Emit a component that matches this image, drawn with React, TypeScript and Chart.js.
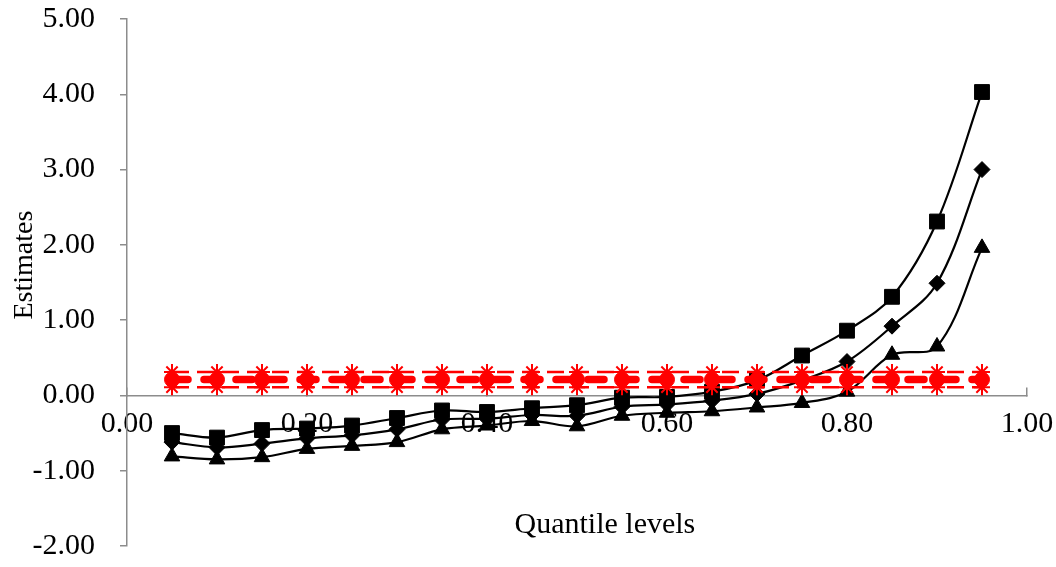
import React, { useEffect, useRef } from 'react';
import { Chart, registerables } from 'chart.js';

Chart.register(...registerables);

const quantiles = [0.05, 0.1, 0.15, 0.2, 0.25, 0.3, 0.35, 0.4, 0.45, 0.5, 0.55, 0.6, 0.65, 0.7, 0.75, 0.8, 0.85, 0.9, 0.95];

const squareSeries = [-0.5, -0.56, -0.46, -0.44, -0.4, -0.3, -0.2, -0.22, -0.17, -0.13, -0.03, -0.02, 0.05, 0.2, 0.53, 0.86, 1.31, 2.31, 4.03];
const diamondSeries = [-0.62, -0.69, -0.64, -0.57, -0.53, -0.45, -0.32, -0.31, -0.26, -0.27, -0.15, -0.12, -0.07, 0.02, 0.2, 0.45, 0.92, 1.49, 3.0];
const triangleSeries = [-0.81, -0.85, -0.82, -0.71, -0.67, -0.62, -0.45, -0.4, -0.34, -0.41, -0.27, -0.23, -0.21, -0.16, -0.1, 0.05, 0.54, 0.65, 1.96];

const upperBand = [0.31, 0.31, 0.31, 0.31, 0.31, 0.31, 0.31, 0.31, 0.31, 0.31, 0.31, 0.31, 0.31, 0.31, 0.31, 0.31, 0.31, 0.31, 0.31];
const middleBand = [0.21, 0.21, 0.21, 0.21, 0.21, 0.21, 0.21, 0.21, 0.21, 0.21, 0.21, 0.21, 0.21, 0.21, 0.21, 0.21, 0.21, 0.21, 0.21];
const lowerBand = [0.11, 0.11, 0.11, 0.11, 0.11, 0.11, 0.11, 0.11, 0.11, 0.11, 0.11, 0.11, 0.11, 0.11, 0.11, 0.11, 0.11, 0.11, 0.11];

const xTickValues = [0, 0.2, 0.4, 0.6, 0.8, 1.0];
const yTickValues = [-2, -1, 0, 1, 2, 3, 4, 5];

const xTitle = 'Quantile levels';
const yTitle = 'Estimates';

const FONT = '"Liberation Serif", "Times New Roman", serif';
const AXIS_GREY = '#8c8c8c';

const toPoints = (ys: number[]) => quantiles.map((q, i) => ({ x: q, y: ys[i] }));

const titlesPlugin = {
  id: 'axisTitles',
  afterDraw(chart: any) {
    const { ctx, chartArea } = chart;
    ctx.save();
    ctx.fillStyle = '#000';
    ctx.textAlign = 'center';
    ctx.textBaseline = 'middle';
    ctx.font = `30px ${FONT}`;
    const w = chartArea.right - chartArea.left;
    const h = chartArea.bottom - chartArea.top;
    ctx.fillText(xTitle, chartArea.left + w * 0.531, chartArea.top + h * 0.96);
    ctx.translate(chartArea.left - 102, chartArea.top + h * 0.467);
    ctx.rotate(-Math.PI / 2);
    ctx.font = `28px ${FONT}`;
    ctx.fillText(yTitle, 0, 0);
    ctx.restore();
  },
};

export default function App() {
  const ref = useRef<HTMLCanvasElement | null>(null);

  useEffect(() => {
    if (!ref.current) return;
    const red = '#ff0000';
    const chart = new Chart(ref.current, {
      type: 'line',
      data: {
        datasets: [
          {
            data: toPoints(upperBand),
            borderColor: red,
            borderWidth: 2.5,
            borderDash: [17, 8],
            pointStyle: 'star',
            pointRadius: 8,
            pointBorderColor: red,
            pointBorderWidth: 2,
            pointBackgroundColor: red,
            tension: 0,
          },
          {
            data: toPoints(lowerBand),
            borderColor: red,
            borderWidth: 2.5,
            borderDash: [17, 8],
            pointStyle: 'star',
            pointRadius: 8,
            pointBorderColor: red,
            pointBorderWidth: 2,
            pointBackgroundColor: red,
            tension: 0,
          },
          {
            data: toPoints(middleBand),
            borderColor: red,
            borderWidth: 7.5,
            borderDash: [16, 16],
            borderCapStyle: 'round',
            pointStyle: 'circle',
            pointRadius: 7.5,
            pointBorderColor: red,
            pointBorderWidth: 1,
            pointBackgroundColor: red,
            tension: 0,
          },
          {
            data: toPoints(squareSeries),
            borderColor: '#000',
            borderWidth: 2.2,
            pointStyle: 'rect',
            pointRadius: 10.5,
            pointBackgroundColor: '#000',
            pointBorderColor: '#000',
            pointBorderWidth: 1,
            tension: 0.35,
          },
          {
            data: toPoints(diamondSeries),
            borderColor: '#000',
            borderWidth: 2.2,
            pointStyle: 'rectRot',
            pointRadius: 8,
            pointBackgroundColor: '#000',
            pointBorderColor: '#000',
            pointBorderWidth: 1,
            tension: 0.35,
          },
          {
            data: toPoints(triangleSeries),
            borderColor: '#000',
            borderWidth: 2.2,
            pointStyle: 'triangle',
            pointRadius: 9,
            pointBackgroundColor: '#000',
            pointBorderColor: '#000',
            pointBorderWidth: 1,
            tension: 0.35,
          },
        ],
      },
      options: {
        responsive: false,
        animation: false,
        layout: { padding: { left: 0, top: 19, right: 29, bottom: 21 } },
        plugins: {
          legend: { display: false },
          tooltip: { enabled: false },
          title: { display: false },
        },
        scales: {
          x: {
            type: 'linear',
            position: { y: 0 } as any,
            min: 0,
            max: 1,
            afterBuildTicks: (scale: any) => {
              scale.ticks = xTickValues.map((v) => ({ value: v }));
            },
            afterFit: (scale: any) => {
              scale.paddingLeft = 0;
              scale.paddingRight = 0;
              scale.paddingTop = 0;
              scale.paddingBottom = 0;
            },
            ticks: {
              color: '#000',
              font: { family: FONT, size: 30 },
              padding: 20,
              maxRotation: 0,
              autoSkip: false,
              callback: (v: any) => Number(v).toFixed(2),
            },
            grid: {
              display: true,
              drawOnChartArea: false,
              drawTicks: true,
              tickLength: -9,
              color: AXIS_GREY,
              lineWidth: 1.5,
            },
            border: { display: true, color: AXIS_GREY, width: 1.5 },
          },
          y: {
            type: 'linear',
            position: 'left',
            min: -2,
            max: 5,
            afterBuildTicks: (scale: any) => {
              scale.ticks = yTickValues.map((v) => ({ value: v }));
            },
            afterFit: (scale: any) => {
              scale.width = 127;
              scale.paddingTop = 0;
              scale.paddingBottom = 0;
              scale.paddingLeft = 0;
              scale.paddingRight = 0;
            },
            ticks: {
              color: '#000',
              font: { family: FONT, size: 30 },
              padding: 25,
              autoSkip: false,
              callback: (v: any) => Number(v).toFixed(2),
            },
            grid: {
              drawOnChartArea: false,
              drawTicks: true,
              tickLength: 7,
              color: AXIS_GREY,
              lineWidth: 1.5,
            },
            border: { display: true, color: AXIS_GREY, width: 1.5 },
          },
        },
      },
      plugins: [titlesPlugin],
    });
    return () => chart.destroy();
  }, []);

  return (
    <div style={{ position: 'fixed', left: 0, top: 0, width: 1056, height: 567, background: '#fff' }}>
      <canvas ref={ref} width={1056} height={567} style={{ width: 1056, height: 567, display: 'block' }} />
    </div>
  );
}
